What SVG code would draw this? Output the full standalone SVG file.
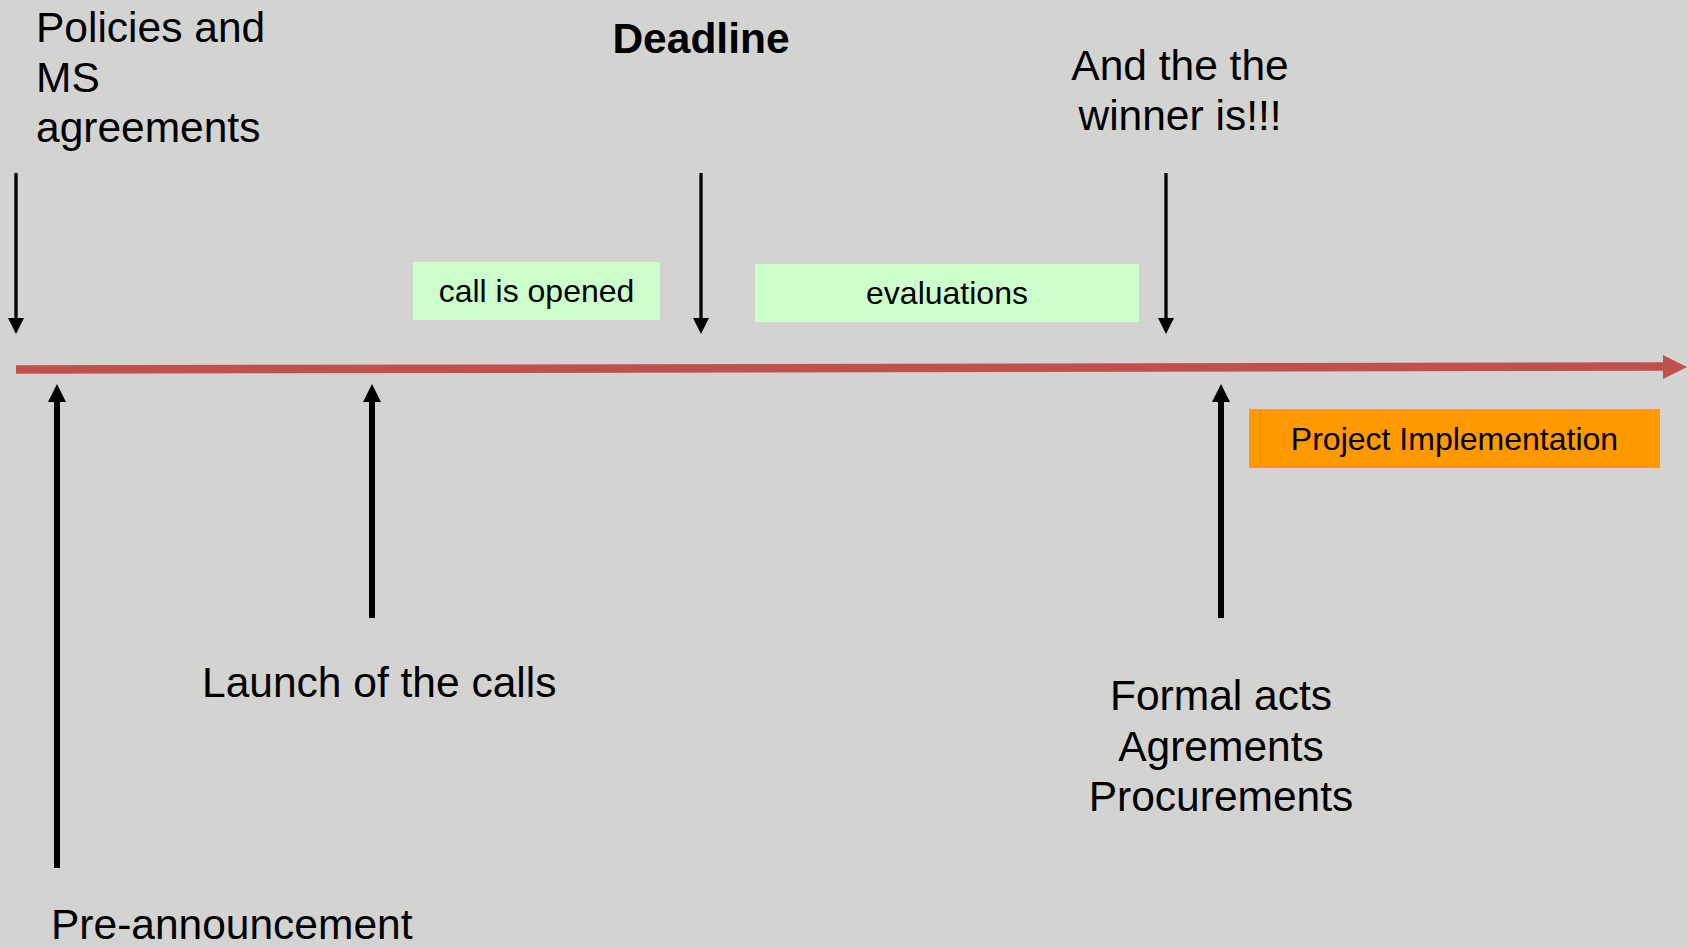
<svg xmlns="http://www.w3.org/2000/svg" width="1688" height="948" viewBox="0 0 1688 948">
  <style>
    .t { font-family: "Liberation Sans", Arial, sans-serif; fill: #000; }
    .big { font-size: 42.5px; }
    .small { font-size: 32px; }
    .bold { font-weight: bold; }
    .thin { stroke: #000; stroke-width: 3.3; fill: none; }
    .thick { stroke: #000; stroke-width: 6; fill: none; }
    .head { fill: #000; }
  </style>
  <rect x="0" y="0" width="1688" height="948" fill="#d3d3d1"/>

  <g id="connectors">
    <g id="timeline">
      <line x1="16" y1="369.5" x2="1664" y2="366.6" stroke="#c0504d" stroke-width="8.5"/>
      <polygon points="1663,355 1687,367 1663,379" fill="#c0504d"/>
    </g>
    <g id="arrow-policies">
      <line class="thin" x1="16" y1="173" x2="16" y2="320"/>
      <polygon class="head" points="8,318 24,318 16,334"/>
    </g>
    <g id="arrow-deadline">
      <line class="thin" x1="701" y1="173" x2="701" y2="320"/>
      <polygon class="head" points="693,318 709,318 701,334"/>
    </g>
    <g id="arrow-winner">
      <line class="thin" x1="1166" y1="173" x2="1166" y2="320"/>
      <polygon class="head" points="1158,318 1174,318 1166,334"/>
    </g>
    <g id="arrow-pre">
      <line class="thick" x1="57" y1="398" x2="57" y2="868"/>
      <polygon class="head" points="48,402 66,402 57,384"/>
    </g>
    <g id="arrow-launch">
      <line class="thick" x1="372" y1="398" x2="372" y2="618"/>
      <polygon class="head" points="363,402 381,402 372,384"/>
    </g>
    <g id="arrow-formal">
      <line class="thick" x1="1221" y1="398" x2="1221" y2="618"/>
      <polygon class="head" points="1212,402 1230,402 1221,384"/>
    </g>
  </g>

  <g id="policies">
    <text class="t big" x="36" y="42">Policies and</text>
    <text class="t big" x="36" y="92">MS</text>
    <text class="t big" x="36" y="142">agreements</text>
  </g>

  <g id="deadline">
    <text class="t big bold" x="701" y="53" text-anchor="middle">Deadline</text>
  </g>

  <g id="winner">
    <text class="t big" x="1180" y="80" text-anchor="middle">And the the</text>
    <text class="t big" x="1180" y="130" text-anchor="middle">winner is!!!</text>
  </g>

  <g id="call-opened">
    <rect x="413" y="262" width="247" height="58" fill="#ccffcc"/>
    <text class="t small" x="536.5" y="302" text-anchor="middle">call is opened</text>
  </g>

  <g id="evaluations">
    <rect x="755" y="264" width="384" height="58" fill="#ccffcc"/>
    <text class="t small" x="947" y="304" text-anchor="middle">evaluations</text>
  </g>

  <g id="project-implementation">
    <rect x="1249" y="409" width="411" height="59" fill="#ff9900"/>
    <text class="t small" x="1454.5" y="450" text-anchor="middle">Project Implementation</text>
  </g>

  <g id="launch">
    <text class="t big" x="202" y="697">Launch of the calls</text>
  </g>

  <g id="formal">
    <text class="t big" x="1221" y="710" text-anchor="middle">Formal acts</text>
    <text class="t big" x="1221" y="761" text-anchor="middle">Agrements</text>
    <text class="t big" x="1221" y="811" text-anchor="middle">Procurements</text>
  </g>

  <g id="pre-announcement">
    <text class="t big" x="51" y="939">Pre-announcement</text>
  </g>
</svg>
